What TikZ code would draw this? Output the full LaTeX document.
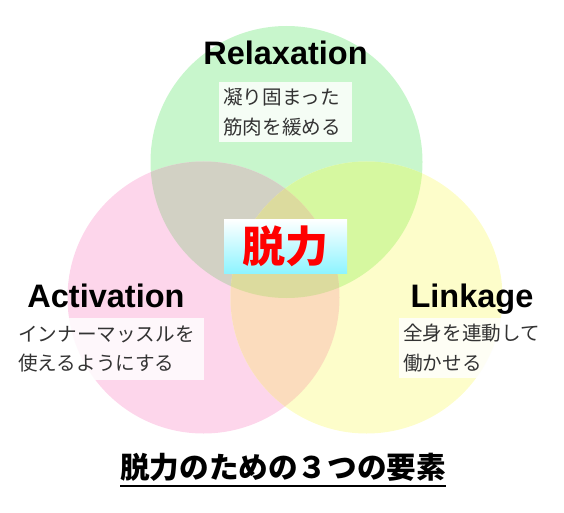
\documentclass[tikz,border=0pt]{standalone}
\usepackage{fontspec}
\setmainfont{Noto Sans CJK JP}
\newfontfamily\headfont{Liberation Sans}
\definecolor{cG}{HTML}{C8F6CC}
\definecolor{cP}{HTML}{FDD6EB}
\definecolor{cY}{HTML}{FDFDCA}
\definecolor{cGP}{HTML}{D2D1C4}
\definecolor{cGY}{HTML}{D6F8A0}
\definecolor{cPY}{HTML}{FBDCBD}
\definecolor{cGPY}{HTML}{DCDB9E}
\definecolor{cCyan}{HTML}{8EF4FF}
\definecolor{txt}{HTML}{333333}
\tikzset{
  headtext/.style={font=\headfont\fontsize{32.5}{34}\selectfont\bfseries, anchor=base, inner sep=0pt, text=black},
  descbox/.style={fill=white, fill opacity=0.82, text opacity=1, text=txt, align=left, anchor=north west,
    font=\fontsize{19.6}{29.5}\selectfont, inner xsep=4pt, inner ysep=0pt},
}
\begin{document}
\begin{tikzpicture}[x=1pt,y=-1pt]
\useasboundingbox (0,0) rectangle (564,513);
\coordinate (G) at (286.5,162);
\coordinate (P) at (203.5,297.5);
\coordinate (Y) at (366.5,297.5);
% single circles
\fill[cG] (G) circle (136pt);
\fill[cP] (P) circle (136pt);
\fill[cY] (Y) circle (136pt);
% pairwise overlaps
\begin{scope}
  \clip (G) circle (136pt);
  \fill[cGP] (P) circle (136pt);
  \fill[cGY] (Y) circle (136pt);
\end{scope}
\begin{scope}
  \clip (P) circle (136pt);
  \fill[cPY] (Y) circle (136pt);
  \clip (Y) circle (136pt);
  \fill[cGPY] (G) circle (136pt);
\end{scope}
% headings
\node[headtext] (relax) at (285.5,65) {Relaxation};
\node[headtext] (activ) at (106,307) {Activation};
\node[headtext] (link) at (472,307) {Linkage};
% descriptions
\node[descbox, text width=125pt, minimum height=60pt] (relaxd) at (219,82) {凝り固まった\\筋肉を緩める};
\node[descbox, inner xsep=8pt, text width=178pt, minimum height=62pt] (activd) at (10,318) {インナーマッスルを\\使えるようにする};
\node[descbox, text width=140pt, minimum height=60pt] (linkd) at (399,318) {全身を連動して\\働かせる};
% center
\node[top color=white, bottom color=cCyan, minimum width=123pt, minimum height=54pt, inner sep=0pt,
  text=red, font=\fontsize{43}{45}\selectfont\bfseries] (core) at (285.5,246) {脱力};
% footer
\node[font=\fontsize{29.6}{31}\selectfont\bfseries, anchor=base, inner sep=0pt] (foot) at (283,478) {脱力のための３つの要素};
\draw[line width=2pt] ([yshift=-8pt]foot.base west) -- ([yshift=-8pt]foot.base east);
\end{tikzpicture}
\end{document}
